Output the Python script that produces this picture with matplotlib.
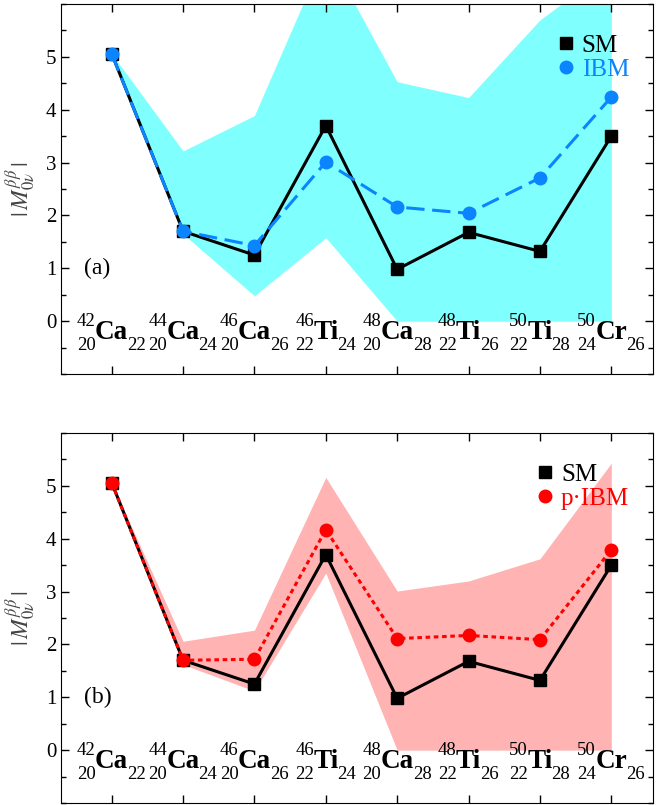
import matplotlib
matplotlib.use('Agg')
import matplotlib.pyplot as plt
from matplotlib.lines import Line2D
from matplotlib.ticker import MultipleLocator
import numpy as np

plt.rcParams['font.family'] = ['Liberation Serif', 'DejaVu Serif']
plt.rcParams['mathtext.fontset'] = 'stix'

# nucleus: element, mass number A, proton number Z, neutron number N
elements = ['Ca', 'Ca', 'Ca', 'Ti', 'Ca', 'Ti', 'Ti', 'Cr']
mass_a = ['42', '44', '46', '46', '48', '48', '50', '50']
prot_z = ['20', '20', '20', '22', '20', '22', '22', '24']
neut_n = ['22', '24', '26', '24', '28', '26', '28', '26']

sm = [5.06, 1.70, 1.25, 3.70, 0.98, 1.68, 1.32, 3.50]

ibm = [5.06, 1.70, 1.43, 3.01, 2.16, 2.04, 2.71, 4.24]
ibm_lo = [5.06, 1.65, 0.48, 1.58, 0.0, 0.0, 0.0, 0.0]
ibm_hi = [5.06, 3.22, 3.89, 7.00, 4.53, 4.23, 5.70, 6.70]

pibm = [5.06, 1.70, 1.72, 4.17, 2.11, 2.17, 2.09, 3.79]
pibm_lo = [5.06, 1.62, 1.12, 3.35, 0.0, 0.0, 0.0, 0.0]
pibm_hi = [5.06, 2.06, 2.27, 5.16, 3.01, 3.20, 3.62, 5.43]

x = np.arange(len(elements))

fig = plt.figure(figsize=(6.56, 8.05), dpi=100)
ax_a = fig.add_axes([0.093, 0.5354, 0.902, 0.4596])
ax_b = fig.add_axes([0.093, 0.0025, 0.902, 0.4596])

panels = [
    (ax_a, ibm, ibm_lo, ibm_hi, '#80ffff', '#0a84ff', (6, 2.5), 'IBM', '(a)'),
    (ax_b, pibm, pibm_lo, pibm_hi, '#ffb3b3', '#ff0000', (1.5, 1.2), 'p\u00b7IBM', '(b)'),
]

renderer = fig.canvas.get_renderer()

for ax, model, lo, hi, band_col, col, dash, name, tag in panels:
    ax.fill_between(x, lo, hi, color=band_col, lw=0, zorder=1)
    ax.plot(x, sm, '-', color='black', lw=2.2, marker='s', ms=8, zorder=3)
    ax.plot(x, model, color=col, lw=2.2, dashes=dash, marker='o', ms=9, zorder=4)

    ax.set_xlim(-0.71, 7.58)
    ax.set_ylim(-1, 6)

    # nucleus labels: bold element centred on the tick, scripts around it
    inv = ax.transData.inverted()
    for xi, el, a, z, n in zip(x, elements, mass_a, prot_z, neut_n):
        t = ax.text(xi, -0.33, el, ha='center', va='baseline',
                    fontsize=19.5, fontweight='bold', zorder=5)
        bb = t.get_window_extent(renderer)
        x0 = inv.transform((bb.x0 + 0.5, 0))[0]
        x1 = inv.transform((bb.x1 - 1.0, 0))[0]
        ax.text(x0, -0.09, a, ha='right', va='baseline', fontsize=13.5, zorder=5)
        ax.text(x0, -0.54, z, ha='right', va='baseline', fontsize=13.5, zorder=5)
        ax.text(x1, -0.54, n, ha='left', va='baseline', fontsize=13.5, zorder=5)

    ax.text(-0.2, 1.0, tag, ha='center', va='center', fontsize=17)

    ax.set_xticks(x)
    ax.set_xticklabels([])
    ax.set_yticks([0, 1, 2, 3, 4, 5])
    ax.yaxis.set_minor_locator(MultipleLocator(0.5))
    ax.tick_params(axis='both', which='both', direction='in', top=True, right=True, labelsize=15)
    ax.tick_params(which='major', length=6, width=1)
    ax.tick_params(which='minor', length=3.5, width=1)
    ax.set_ylabel(r'$|\,M^{\beta\beta}_{0\nu}\,|$', fontsize=17, color='#444444', labelpad=6)

    handles = [Line2D([], [], ls='none', marker='s', ms=8, color='black'),
               Line2D([], [], ls='none', marker='o', ms=9, color=col)]
    leg = ax.legend(handles, ['SM', name], loc='upper right', bbox_to_anchor=(0.99, 0.965),
                    frameon=False, fontsize=18, handlelength=0.6, handletextpad=0.35,
                    labelspacing=0.05, borderaxespad=0.3)
    leg.get_texts()[1].set_color(col)

fig.savefig('out.png', dpi=100)
